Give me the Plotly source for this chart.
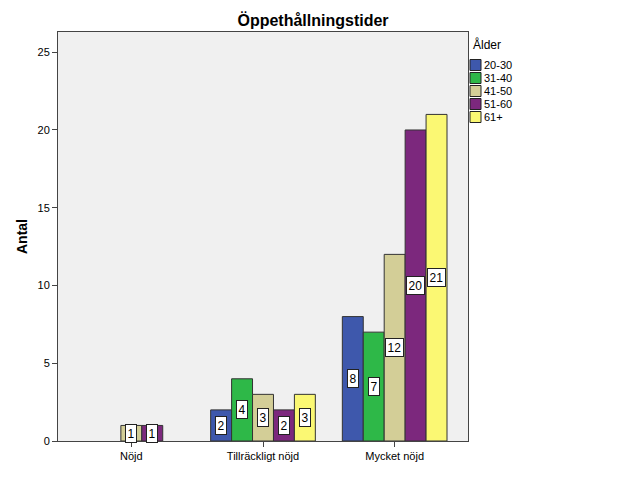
import plotly.graph_objects as go

categories = ["Nöjd", "Tillräckligt nöjd", "Mycket nöjd"]
series_names = ["20-30", "31-40", "41-50", "51-60", "61+"]
values = {
    "20-30": [0, 2, 8],
    "31-40": [0, 4, 7],
    "41-50": [1, 3, 12],
    "51-60": [1, 2, 20],
    "61+":   [0, 3, 21],
}
colors = ["#3E58AC", "#2EB848", "#D3CE97", "#7C287D", "#FBF873"]
y_ticks = [0, 5, 10, 15, 20, 25]

FONT = "Liberation Sans, Arial, sans-serif"
L, R, T, B = 58, 158, 32, 60
W, H = 626, 501
pw, ph = W - L - R, H - T - B

bargap = 0.205
n = len(series_names)
bw = (1 - bargap) / n

fig = go.Figure()
for i, name in enumerate(series_names):
    fig.add_trace(go.Bar(
        x=list(range(len(categories))),
        y=[v if v > 0 else None for v in values[name]], name=name,
        marker=dict(color=colors[i], line=dict(color="#333333", width=1)),
        showlegend=False,
    ))

annotations = []
for i, name in enumerate(series_names):
    off = (i - (n - 1) / 2) * bw
    for c, v in enumerate(values[name]):
        if v <= 0:
            continue
        annotations.append(dict(
            x=c + off, y=v / 2, xref="x", yref="y", text=str(v), showarrow=False,
            font=dict(family=FONT, size=12, color="black"),
            bgcolor="white", bordercolor="#222222", borderwidth=1, borderpad=1.5,
        ))

# custom legend
def px2x(px):
    return (px - L) / pw

def py2y(py):
    return (H - B - py) / ph

annotations.append(dict(
    x=px2x(471), y=py2y(44), xref="paper", yref="paper", text="Ålder",
    showarrow=False, xanchor="left", yanchor="middle",
    font=dict(family=FONT, size=12, color="black"),
))
shapes = []
for i, name in enumerate(series_names):
    cy = 65 + 13 * i
    shapes.append(dict(
        type="rect", xref="paper", yref="paper",
        x0=px2x(470), x1=px2x(481), y0=py2y(cy - 5.5), y1=py2y(cy + 5.5),
        fillcolor=colors[i], line=dict(color="#222222", width=1),
    ))
    annotations.append(dict(
        x=px2x(482), y=py2y(cy), xref="paper", yref="paper", text=name,
        showarrow=False, xanchor="left", yanchor="middle",
        font=dict(family=FONT, size=11, color="black"),
    ))

fig.update_layout(
    width=W, height=H,
    margin=dict(l=L, r=R, t=T, b=B, pad=0),
    paper_bgcolor="white", plot_bgcolor="#F0F0F0",
    barmode="group", bargap=bargap, bargroupgap=0,
    title=dict(text="<b>Öppethållningstider</b>", x=0.5, xref="container", xanchor="center",
               y=1 - 20 / H, yanchor="middle",
               font=dict(family=FONT, size=16, color="black")),
    xaxis=dict(
        tickvals=list(range(len(categories))), ticktext=categories,
        range=[-0.557, len(categories) - 1 + 0.557],
        showline=True, linecolor="#444444", linewidth=1, mirror=True,
        ticks="outside", ticklen=5, tickcolor="#444444",
        showgrid=False, zeroline=False,
        tickfont=dict(family=FONT, size=11, color="black"),
    ),
    yaxis=dict(
        range=[0, 26.3], tickvals=y_ticks,
        showline=True, linecolor="#444444", linewidth=1, mirror=True,
        ticks="outside", ticklen=5, tickcolor="#444444",
        showgrid=False, zeroline=False,
        title=dict(text="<b>Antal</b>", standoff=6,
                   font=dict(family=FONT, size=14, color="black")),
        tickfont=dict(family=FONT, size=11, color="black"),
    ),
    annotations=annotations,
    shapes=shapes,
)

fig.write_html("out.html")
